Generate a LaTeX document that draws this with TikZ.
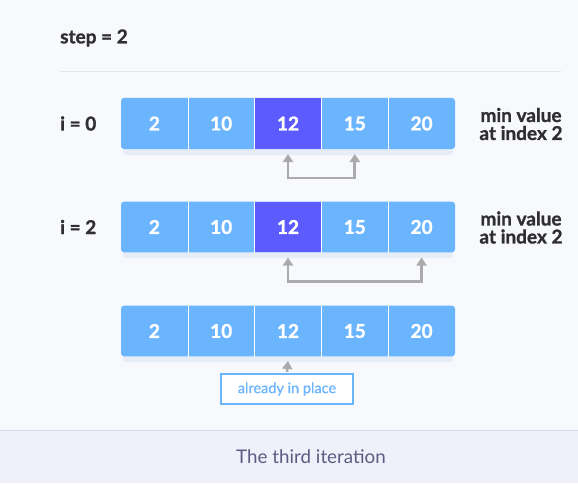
\documentclass[tikz,border=0pt]{standalone}
\usepackage{fontspec}
\setmainfont{Lato}
\newfontfamily\latosemi{Lato}[FakeBold=0.8]
\newfontfamily\latoheavy{Lato}[BoldFeatures={FakeBold=1.2}]
\usetikzlibrary{arrows.meta,calc}
\definecolor{bgc}{HTML}{F8F9FC}
\definecolor{footbg}{HTML}{EEF1F9}
\definecolor{footline}{HTML}{D6DBE8}
\definecolor{cellc}{HTML}{6BB5FF}
\definecolor{hlc}{HTML}{5B5BFF}
\definecolor{arrgray}{HTML}{ABABAB}
\definecolor{txtc}{HTML}{2E2E33}
\definecolor{foottxt}{HTML}{5C5C82}
\definecolor{sepc}{HTML}{E2E4EA}
\definecolor{shadowc}{HTML}{E6EDF8}
\tikzset{
  x=1pt, y=1pt,
  cellbox/.style={minimum width=66.8pt, minimum height=50.6pt, inner sep=0pt, text=white,
    font=\latoheavy\bfseries\fontsize{19}{22}\selectfont},
  hlcell/.style={cellbox, fill=hlc},
  rowbg/.style={fill=cellc, rounded corners=3pt},
  rowshadow/.style={fill=shadowc, rounded corners=3pt},
  cellsep/.style={draw=white, line width=1pt},
  lbl/.style={text=txtc, font=\latoheavy\bfseries\fontsize{19}{18}\selectfont, inner sep=0pt},
  minlbl/.style={lbl, align=center},
  swaparrow/.style={draw=arrgray, line width=2.8pt,
    {Triangle[width=10pt,length=8pt]}-{Triangle[width=10pt,length=8pt]}},
  uparrow/.style={draw=arrgray, line width=2.6pt, -{Triangle[width=10pt,length=8pt]}},
  placebox/.style={draw=cellc, line width=2.5pt, fill=white, minimum width=132pt,
    minimum height=30pt, inner sep=0pt, text=cellc, font=\latosemi\fontsize{14.5}{16}\selectfont},
}
\begin{document}
\begin{tikzpicture}
\useasboundingbox (0,0) rectangle (578,483);
\fill[bgc] (0,0) rectangle (578,483);
\fill[footbg] (0,0) rectangle (578,53);
\draw[footline, line width=1pt] (0,53) -- (578,53);
\draw[sepc, line width=1pt] (60,411) -- (561,411);

\node[lbl, anchor=west] (step) at (60,445) {step = 2};

% row 1
\fill[rowshadow] (123,328) rectangle (453,336);
\fill[rowbg] (121,334) rectangle (455,385);
\foreach \v [count=\i] in {2,10,12,15,20}
  \node[cellbox] (r1c\i) at ({121+66.8*(\i-0.5)},359.5) {\v};
\node[hlcell] at (r1c3) {12};
\foreach \i in {1,2,3,4}
  \draw[cellsep] (r1c\i.north east) -- (r1c\i.south east);
\node[lbl, anchor=west] (i0) at (60,359.5) {i = 0};
\node[minlbl] (m1) at (521,359) {min value\\at index 2};
\draw[swaparrow] ([yshift=-5pt]r1c3.south) -- ([yshift=-29pt]r1c3.south) -| ([yshift=-5pt]r1c4.south);

% row 2
\fill[rowshadow] (123,225) rectangle (453,233);
\fill[rowbg] (121,230.7) rectangle (455,281.3);
\foreach \v [count=\i] in {2,10,12,15,20}
  \node[cellbox] (r2c\i) at ({121+66.8*(\i-0.5)},256) {\v};
\node[hlcell] at (r2c3) {12};
\foreach \i in {1,2,3,4}
  \draw[cellsep] (r2c\i.north east) -- (r2c\i.south east);
\node[lbl, anchor=west] (i2) at (60,256) {i = 2};
\node[minlbl] (m2) at (521,255.5) {min value\\at index 2};
\draw[swaparrow] ([yshift=-5pt]r2c3.south) -- ([yshift=-29pt]r2c3.south) -| ([yshift=-5pt]r2c5.south);

% row 3
\fill[rowshadow] (123,121) rectangle (453,129);
\fill[rowbg] (121,126.7) rectangle (455,177.3);
\foreach \v [count=\i] in {2,10,12,15,20}
  \node[cellbox] (r3c\i) at ({121+66.8*(\i-0.5)},152) {\v};
\foreach \i in {1,2,3,4}
  \draw[cellsep] (r3c\i.north east) -- (r3c\i.south east);
\node[placebox] (place) at (287,94) {already in place};
\draw[uparrow] ([yshift=1pt]place.north) -- ([yshift=-4.5pt]r3c3.south);

\node[text=foottxt, font=\fontsize{18.8}{22}\selectfont, inner sep=0pt] (cap) at (311,26) {The third iteration};
\end{tikzpicture}
\end{document}
